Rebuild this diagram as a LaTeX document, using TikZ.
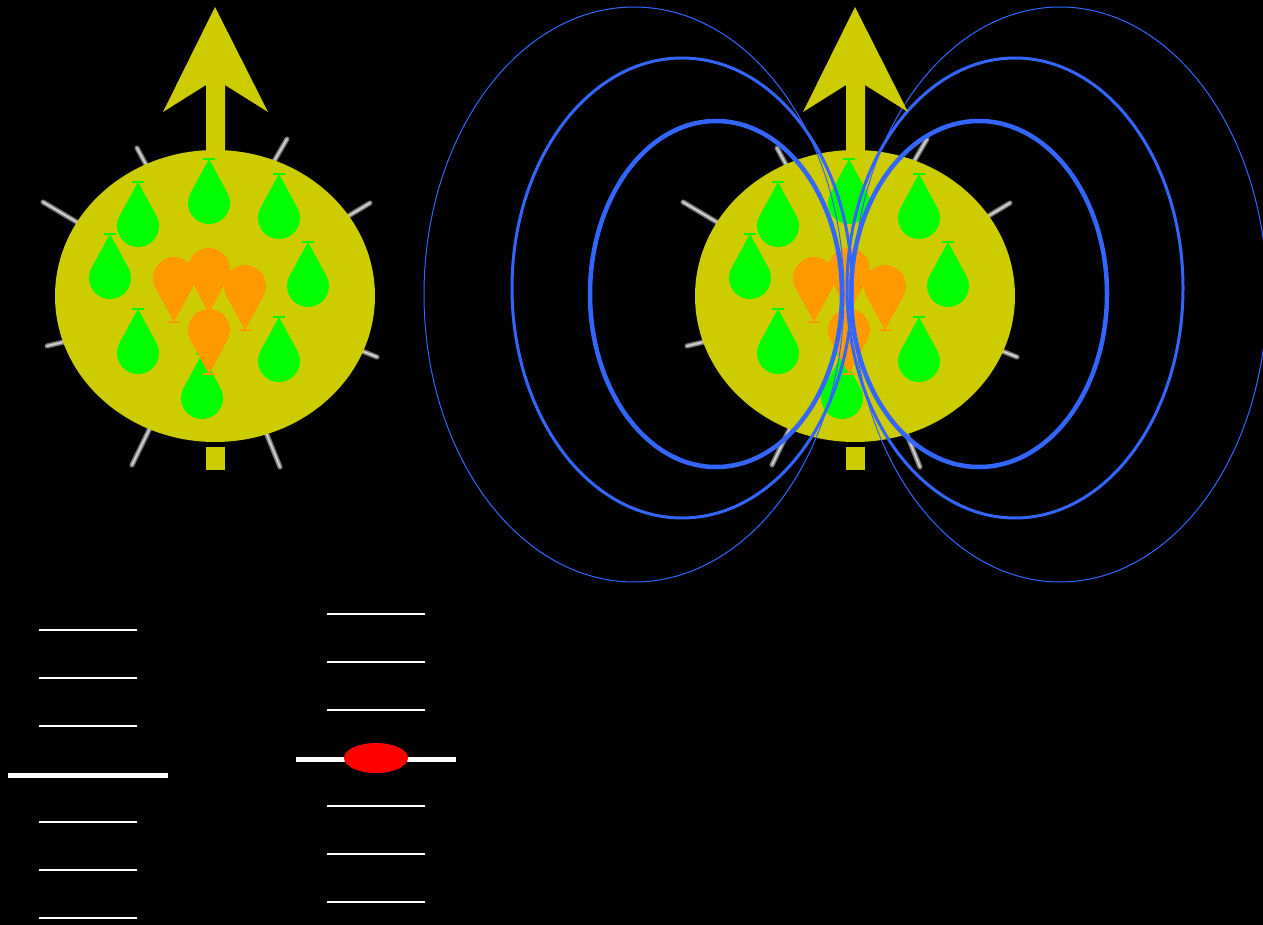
\documentclass[tikz,border=0pt]{standalone}
\begin{document}
\begin{tikzpicture}[x=1pt,y=-1pt,
  fieldline/.style={draw={rgb,255:red,51;green,102;blue,255}},
  level/.style={draw=white,line width=2pt},
  groundlevel/.style={draw=white,line width=5pt},
  drop/.pic={
    \fill (0,-44) -- (-28.5:21) arc[start angle=-28.5,end angle=208.5,radius=21] -- cycle;
    \draw[line width=1.5pt] (-6,-44) -- (6,-44);
  }]
\definecolor{protoncol}{RGB}{0,255,0}
\definecolor{neutroncol}{RGB}{255,153,0}
\definecolor{spikeedge}{RGB}{120,120,120}
\definecolor{spikecore}{RGB}{205,205,205}
\definecolor{yel}{RGB}{204,204,0}

% background and page size
\fill[black] (0,0) rectangle (1263,925);
\useasboundingbox (0,0) rectangle (1263,925);

% one nucleus, drawn at horizontal offset #1
\newcommand{\nucleusbody}[1]{%
  \begin{scope}[xshift=#1]
    % spikes sticking out of the surface
    \foreach \a/\b in {{(137,148)/(150,172)},{(43,202)/(80,224)},{(287,139)/(273,163)},
                       {(370,203)/(345,218)},{(47,346)/(72,340)},{(377,357)/(352,347)},
                       {(132,465)/(150,428)},{(280,467)/(265,430)}}{
      \draw[spikeedge,line width=5pt,line cap=round] \a -- \b;
      \draw[spikecore,line width=2pt,line cap=round] \a -- \b;
    }
    % body
    \fill[yel] (215,296) ellipse[x radius=160,y radius=146];
    % protons
    \foreach \p in {(138,226),(209,203),(279,218),(110,278),(308,286),(138,353),(279,361),(202,398)}
      \pic[protoncol] at \p {drop};
    % neutrons
    \foreach \p in {(209,269),(174,278),(245,286),(209,330)}
      \pic[neutroncol,rotate=180] at \p {drop};
  \end{scope}}

% spin arrow and its tail, drawn at horizontal offset #1
\newcommand{\spinarrow}[1]{%
  \begin{scope}[xshift=#1]
    \fill[yel] (215,7) -- (268,112) -- (225,85) -- (225,153) -- (206,153)
               -- (206,85) -- (163,112) -- cycle;
    \fill[yel] (206,447) rectangle (225,470);
  \end{scope}}

\nucleusbody{0}
\spinarrow{0}

\nucleusbody{640}

% magnetic field lines around the second nucleus
\draw[fieldline,line width=1pt] (634,294.5) ellipse[x radius=210,y radius=287.5];
\draw[fieldline,line width=1pt] (1060,294.5) ellipse[x radius=207,y radius=287.5];
\draw[fieldline,line width=3pt] (682,288) ellipse[x radius=170,y radius=230];
\draw[fieldline,line width=3pt] (1015,288) ellipse[x radius=168,y radius=230];
\draw[fieldline,line width=4.5pt] (716,294) ellipse[x radius=126,y radius=173];
\draw[fieldline,line width=4.5pt] (979,294) ellipse[x radius=128,y radius=173];

\spinarrow{640}

% energy levels, degenerate ground level
\foreach \y in {630,678,726,822,870,918}
  \draw[level] (39,\y) -- (137,\y);
\draw[groundlevel] (8,775) -- (168,775);

% energy levels, occupied level
\foreach \y in {614,662,710,806,854,902}
  \draw[level] (327,\y) -- (425,\y);
\draw[groundlevel] (296,759) -- (456,759);
\fill[red] (376,758) ellipse[x radius=32,y radius=15];
\end{tikzpicture}
\end{document}
